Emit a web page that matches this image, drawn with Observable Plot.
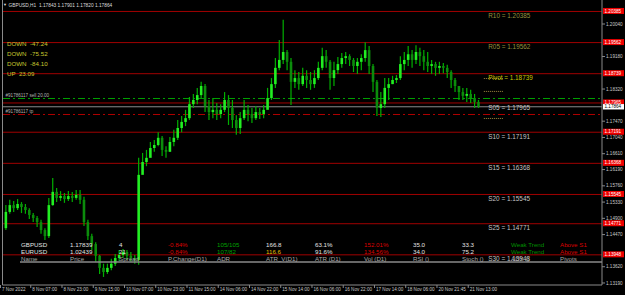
<!DOCTYPE html>
<html><head><meta charset="utf-8">
<script src="https://cdn.jsdelivr.net/npm/d3@7"></script>
<script src="https://cdn.jsdelivr.net/npm/@observablehq/plot@0.6"></script>
<style>
html,body{margin:0;padding:0;background:#000;}
#chart{width:625px;height:295px;overflow:hidden;}
</style></head><body><div id="chart"></div>
<script>
// ---- data (GBPUSD H1, two-hour candles) ----
const firstOpen = 1.1464;
const closes = [1.1507,1.1525,1.1517,1.1528,1.1520,1.1512,1.1499,1.1491,1.1480,1.1459,
1.1443,1.1525,1.1560,1.1544,1.1549,1.1541,1.1549,1.1544,1.1552,1.1539,
1.1480,1.1443,1.1422,1.1391,1.1359,1.1348,1.1359,1.1370,1.1385,1.1393,
1.1401,1.1391,1.1385,1.1380,1.1605,1.1639,1.1650,1.1676,1.1684,1.1703,
1.1671,1.1666,1.1692,1.1703,1.1729,1.1745,1.1755,1.1792,1.1803,1.1816,
1.1840,1.1787,1.1771,1.1777,1.1766,1.1777,1.1803,1.1782,1.1750,1.1729,
1.1755,1.1777,1.1766,1.1755,1.1771,1.1766,1.1777,1.1808,1.1845,1.1888,
1.1909,1.1930,1.1904,1.1851,1.1861,1.1845,1.1867,1.1856,1.1845,1.1861,
1.1888,1.1919,1.1904,1.1861,1.1882,1.1898,1.1914,1.1919,1.1909,1.1893,
1.1904,1.1914,1.1935,1.1893,1.1851,1.1782,1.1792,1.1835,1.1845,1.1856,
1.1861,1.1898,1.1909,1.1924,1.1909,1.1930,1.1919,1.1904,1.1893,1.1898,
1.1888,1.1893,1.1888,1.1877,1.1856,1.1840,1.1824,1.1814,1.1819,1.1808,
1.1798,1.17864];
const highs = [1.1525,1.1539,1.1536,1.1541,1.1533,1.1528,1.1517,1.1504,1.1496,1.1486,
1.1464,1.1544,1.1597,1.1570,1.1562,1.1557,1.1562,1.1560,1.1565,1.1565,
1.1547,1.1486,1.1449,1.1427,1.1393,1.1370,1.1370,1.1383,1.1396,1.1406,
1.1409,1.1406,1.1401,1.1393,1.1650,1.1663,1.1671,1.1692,1.1697,1.1718,
1.1708,1.1681,1.1705,1.1724,1.1750,1.1761,1.1777,1.1811,1.1819,1.1835,
1.1851,1.1845,1.1803,1.1808,1.1795,1.1792,1.1824,1.1816,1.1803,1.1763,
1.1771,1.1803,1.1790,1.1782,1.1787,1.1782,1.1790,1.1835,1.1861,1.1914,
1.1962,1.2015,1.1935,1.1914,1.1882,1.1877,1.1888,1.1882,1.1877,1.1882,
1.1904,1.1941,1.1935,1.1909,1.1904,1.1917,1.1927,1.1930,1.1924,1.1914,
1.1914,1.1924,1.1956,1.1946,1.1898,1.1856,1.1824,1.1861,1.1861,1.1867,
1.1869,1.1919,1.1930,1.1946,1.1935,1.1948,1.1941,1.1935,1.1930,1.1909,
1.1904,1.1904,1.1901,1.1896,1.1882,1.1861,1.1840,1.1835,1.1835,1.1830,
1.1819,1.1803];
const lows = [1.1459,1.1502,1.1507,1.1512,1.1504,1.1502,1.1488,1.1480,1.1467,1.1449,
1.1433,1.1438,1.1523,1.1533,1.1536,1.1531,1.1536,1.1533,1.1539,1.1528,
1.1470,1.1433,1.1406,1.1375,1.1343,1.1335,1.1343,1.1353,1.1364,1.1377,
1.1385,1.1380,1.1375,1.1370,1.1367,1.1613,1.1628,1.1655,1.1666,1.1681,
1.1655,1.1650,1.1666,1.1681,1.1697,1.1718,1.1734,1.1750,1.1782,1.1792,
1.1808,1.1771,1.1750,1.1755,1.1750,1.1755,1.1771,1.1737,1.1729,1.1711,
1.1713,1.1750,1.1747,1.1742,1.1750,1.1753,1.1755,1.1782,1.1803,1.1835,
1.1882,1.1898,1.1882,1.1790,1.1835,1.1830,1.1840,1.1835,1.1830,1.1835,
1.1856,1.1882,1.1888,1.1830,1.1840,1.1872,1.1888,1.1898,1.1893,1.1877,
1.1872,1.1882,1.1904,1.1872,1.1824,1.1761,1.1758,1.1782,1.1803,1.1845,
1.1848,1.1856,1.1882,1.1893,1.1888,1.1898,1.1893,1.1882,1.1877,1.1872,
1.1867,1.1872,1.1874,1.1861,1.1835,1.1824,1.1803,1.1803,1.1798,1.1795,
1.1782,1.1782];
const xTickLabels = ["7 Nov 2022","8 Nov 07:00","8 Nov 23:00","9 Nov 15:00","10 Nov 07:00","10 Nov 23:00","11 Nov 15:00","14 Nov 06:00","14 Nov 22:00","15 Nov 14:00","16 Nov 06:00","16 Nov 22:00","17 Nov 14:00","18 Nov 06:00","20 Nov 21:45","21 Nov 13:00"];
// visible right-axis tick labels (the others are hidden under the price boxes)
const yTickValues = [1.20040,1.19180,1.18320,1.17470,1.17040,1.16610,1.16190,1.15760,1.15330,1.14900,1.14470,1.13620,1.13190];
const pivotNames = ["R10","R05","Pivot","S05","S10","S15","S20","S25","S30"];
const pivotValues = [1.20385,1.19562,1.18739,1.17965,1.17191,1.16368,1.15545,1.14771,1.13948];
const lastPrice = 1.17864;
const orderOpenPrice = 1.18083;
const orderTpPrice = 1.17660;
const markerLevels = [1.18612,1.18270,1.17555];
const titleText = "GBPUSD,H1  1.17843 1.17901 1.17820 1.17864";
const signalLabels = ["DOWN  -47.24","DOWN  -75.52","DOWN  -84.10","UP  23.09"];
const tableHeaders = ["Name","Price","Spread","P.Change(D1)","ADR","ATR_V(D1)","ATR (D1)","Vol (D1)","RSI ()","Stoch ()","ADX ()","Pivots"];
const rowGBP = ["GBPUSD","1.17839","4","-0.84%","105/105","166.8","63.1%","152.01%","35.0","33.3","Weak Trend","Above S1"];
const rowEUR = ["EURUSD","1.02439","21","-0.84%","107/82","116.6","91.6%","134.56%","34.0","75.2","Weak Trend","Above S1"];

// ---- drawing ----
const FONT = "'Liberation Sans', Arial, sans-serif";
const candles = closes.map((c, k) => ({t: 3 + 2 * k, o: k === 0 ? firstOpen : closes[k - 1], c, h: highs[k], l: lows[k]}));
const pivots = pivotNames.map((n, i) => ({name: n, value: pivotValues[i]}));
const pivotColor = n => n[0] === "R" ? "#94943e" : n === "Pivot" ? "#c8c800" : "#c4c4c4";
const labelBar = 250;

function frameMark(index, scales, values, dim) {
  const g = d3.create("svg:g").attr("font-family", FONT).attr("text-anchor", "start");
  const x0 = dim.width - dim.marginRight, yb = dim.height - dim.marginBottom;
  g.append("line").attr("x1", 2.5).attr("x2", 2.5).attr("y1", 0).attr("y2", yb).attr("stroke", "#8a8a8a");
  g.append("line").attr("x1", 2.5).attr("x2", x0).attr("y1", yb).attr("y2", yb).attr("stroke", "#8a8a8a");
  g.append("line").attr("x1", x0).attr("x2", x0).attr("y1", 0).attr("y2", yb).attr("stroke", "#8a8a8a");
  xTickLabels.forEach((lab, j) => {
    const x = Math.max(scales.x(16 * j), 0.5);
    g.append("line").attr("x1", x).attr("x2", x).attr("y1", yb).attr("y2", yb + 3).attr("stroke", "#8a8a8a");
    g.append("text").attr("x", x + 1.5).attr("y", yb + 4.5).attr("dy", "0.35em").attr("font-size", 4.6).attr("fill", "#c8c8c8").text(lab);
  });
  yTickValues.forEach(v => {
    const y = scales.y(v);
    g.append("line").attr("x1", x0).attr("x2", x0 + 3).attr("y1", y).attr("y2", y).attr("stroke", "#8a8a8a");
    g.append("text").attr("x", x0 + 4).attr("y", y).attr("dy", "0.35em").attr("font-size", 4.6).attr("fill", "#c8c8c8").text(v.toFixed(5));
  });
  pivotValues.forEach(v => {
    const y = scales.y(v);
    g.append("rect").attr("x", x0 + 1).attr("y", y - 3).attr("width", 21).attr("height", 6).attr("fill", "#ee0000");
    g.append("text").attr("x", x0 + 2.5).attr("y", y).attr("dy", "0.35em").attr("font-size", 4.6).attr("fill", "#ffffff").text(v.toFixed(5));
  });
  const yl = scales.y(lastPrice);
  g.append("rect").attr("x", x0 + 1).attr("y", yl - 2.2).attr("width", 21).attr("height", 5.4).attr("fill", "#ffffff");
  g.append("text").attr("x", x0 + 2.5).attr("y", yl + 0.5).attr("dy", "0.35em").attr("font-size", 4.6).attr("fill", "#000").text(lastPrice.toFixed(5));
  return g.node();
}

function overlayMark(index, scales, values, dim) {
  const g = d3.create("svg:g").attr("font-family", FONT).attr("text-anchor", "start");
  const x0 = dim.width - dim.marginRight;
  g.append("text").attr("x", 3).attr("y", 5).attr("dy", "0.35em").attr("font-size", 4).attr("fill", "#dcdcdc").text("▼");
  g.append("text").attr("x", 8.5).attr("y", 5).attr("dy", "0.35em").attr("font-size", 4.8).attr("fill", "#dcdcdc").attr("xml:space", "preserve").text(titleText);
  signalLabels.forEach((s, i) => {
    g.append("text").attr("x", 7).attr("y", 44 + 10 * i).attr("dy", "0.35em").attr("font-size", 6.2).attr("fill", "#c8c830").attr("xml:space", "preserve").text(s);
  });
  g.append("line").attr("x1", 20).attr("x2", x0).attr("y1", 262).attr("y2", 262).attr("stroke", "#8a8a8a").attr("stroke-width", 1.5);
  const rows = [rowGBP, rowEUR, tableHeaders];
  const rowY = [244.5, 251.5, 259];
  const cellColor = (r, c) => {
    if (r === 2) return "#a8a8a8";
    if (c === 3 || c === 7 || c === 11) return "#dd0000";
    if (c === 4) return "#00a000";
    if (c === 10) return "#009000";
    if (c === 5 && r === 1) return "#e6be00";
    return "#e4e4e4";
  };
  rows.forEach((row, r) => row.forEach((txt, c) => {
    g.append("text").attr("x", 21 + 49 * c).attr("y", rowY[r]).attr("dy", "0.35em").attr("font-size", 6.2).attr("fill", cellColor(r, c)).text(txt);
  }));
  return g.node();
}

const plot = Plot.plot({
  width: 625, height: 295,
  marginTop: 0, marginBottom: 10, marginLeft: 3, marginRight: 23,
  style: {background: "#000", fontFamily: FONT, overflow: "visible"},
  x: {domain: [1.79, 308.5], axis: null},
  y: {domain: [1.13137, 1.20675], axis: null},
  marks: [
    Plot.ruleY(pivotValues, {stroke: "#a00000", strokeWidth: 1}),
    Plot.ruleY([orderOpenPrice], {stroke: "#00a000", strokeDasharray: "7,3,2,3"}),
    Plot.ruleY([orderTpPrice], {stroke: "#b00000", strokeDasharray: "7,3,2,3"}),
    Plot.ruleY([lastPrice], {stroke: "#8c8c8c"}),
    Plot.ruleY(markerLevels, {x1: 248, x2: 258, stroke: "#a08a40", strokeDasharray: "1,1"}),
    Plot.ruleX(candles, {x: "t", y1: "l", y2: "h", stroke: "#00b000", strokeWidth: 1.2}),
    Plot.ruleX(candles, {x: "t", y1: "o", y2: "c", stroke: d => d.c >= d.o ? "#22ee22" : "#0c8c0c", strokeWidth: 2.6}),
    Plot.text(pivots, {x: () => labelBar, y: "value", dy: 4.5, text: d => `${d.name} = ${d.value.toFixed(5)}`, textAnchor: "start", fill: d => pivotColor(d.name), fontSize: 6.4}),
    Plot.text([orderOpenPrice], {y: d => d, frameAnchor: "left", dx: 2, dy: -3, text: () => "#91786117 sell 20.00", textAnchor: "start", fill: "#b0b0b0", fontSize: 4.6}),
    Plot.text([orderTpPrice], {y: d => d, frameAnchor: "left", dx: 2, dy: -3, text: () => "#91786117 tp", textAnchor: "start", fill: "#b0b0b0", fontSize: 4.6}),
    overlayMark,
    frameMark
  ]
});
document.getElementById("chart").appendChild(plot);
</script>
</body></html>
